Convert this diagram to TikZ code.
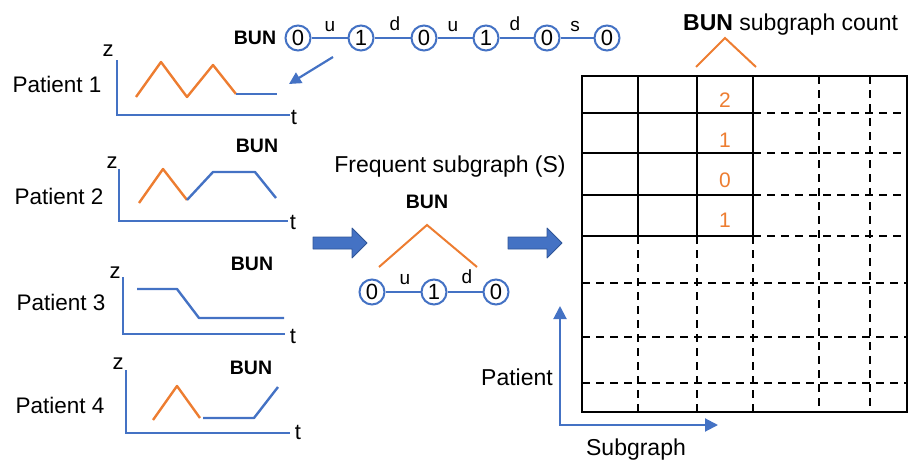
\documentclass[tikz,border=0pt]{standalone}
\usepackage{fontspec}
\setmainfont{Liberation Sans}
\usetikzlibrary{arrows.meta}
\definecolor{cblue}{HTML}{4472C4}
\definecolor{cdblue}{HTML}{2F5597}
\definecolor{corange}{HTML}{ED7D31}
\begin{document}
\begin{tikzpicture}[x=1pt,y=-1pt,
  vert/.style={circle,draw=cblue,line width=2pt,inner sep=0pt,minimum size=25pt,font=\fontsize{22}{22}\selectfont},
  chainedge/.style={draw=cblue,line width=1.7pt},
  elab/.style={anchor=base,inner sep=0pt,font=\fontsize{19}{19}\selectfont},
  axisline/.style={draw=cblue,line width=2.6pt},
  bluser/.style={draw=cblue,line width=2.4pt,line join=round},
  orser/.style={draw=corange,line width=2.4pt,line join=round},
  pat/.style={inner sep=0pt,font=\fontsize{22.5}{26}\selectfont},
  bun/.style={inner sep=0pt,font=\fontsize{19.5}{20}\selectfont\bfseries},
  axlab/.style={inner sep=0pt,font=\fontsize{22}{22}\selectfont},
  big/.style={inner sep=0pt,font=\fontsize{23}{26}\selectfont},
  cnt/.style={inner sep=0pt,text=corange,font=\fontsize{21}{21}\selectfont},
  gridsolid/.style={draw=black,line width=2.4pt},
  griddash/.style={draw=black,line width=2.2pt,dash pattern=on 8pt off 6pt},
  blockarrow/.style={fill=cblue,draw=cdblue,line width=0.8pt,line join=round},
  tent/.style={draw=corange,line width=2pt,line join=miter}
]
\useasboundingbox (0,0) rectangle (908,466);

% ---------- top chain ----------
\node[bun] (bunTop) at (255,38) {BUN};
\node[vert] (c1) at (298,38) {0};
\node[vert] (c2) at (361,38) {1};
\node[vert] (c3) at (424,38) {0};
\node[vert] (c4) at (486,38) {1};
\node[vert] (c5) at (547,38) {0};
\node[vert] (c6) at (607,38) {0};
\draw[chainedge] (c1) -- (c2);
\draw[chainedge] (c2) -- (c3);
\draw[chainedge] (c3) -- (c4);
\draw[chainedge] (c4) -- (c5);
\draw[chainedge] (c5) -- (c6);
\node[elab] (l1) at (330,31) {u};
\node[elab] (l2) at (395,30) {d};
\node[elab] (l3) at (453,31) {u};
\node[elab] (l4) at (515,30) {d};
\node[elab] (l5) at (575,31) {s};
\coordinate (arS) at (333,57);
\coordinate (arE) at (289,84);
\draw[draw=cblue,line width=2.2pt,-{Triangle[length=12pt,width=12pt]}] (arS) -- (arE);

% ---------- patient 1 ----------
\node[pat] (p1) at (57,84) {Patient 1};
\node[axlab] (z1) at (108,51) {z};
\node[axlab] (t1) at (294,117) {t};
\draw[axisline] (117,60) -- (117,115) -- (290,115);
\draw[orser] (136,97) -- (161,62) -- (187,97) -- (213,65) -- (236,94);
\draw[bluser] (236,94) -- (277,94);

% ---------- patient 2 ----------
\node[pat] (p2) at (59,196) {Patient 2};
\node[bun] (bun2) at (257,146) {BUN};
\node[axlab] (z2) at (112,163) {z};
\node[axlab] (t2) at (293,222) {t};
\draw[axisline] (119,169) -- (119,221) -- (288,221);
\draw[orser] (139,203) -- (163,169) -- (187,200);
\draw[bluser] (187,200) -- (213,172) -- (255,172) -- (276,198);

% ---------- patient 3 ----------
\node[pat] (p3) at (61,302) {Patient 3};
\node[bun] (bun3) at (252,264) {BUN};
\node[axlab] (z3) at (115,273) {z};
\node[axlab] (t3) at (293,336) {t};
\draw[axisline] (123,277) -- (123,334) -- (285,334);
\draw[bluser] (137,289) -- (177,289) -- (199,318) -- (284,318);

% ---------- patient 4 ----------
\node[pat] (p4) at (60,405) {Patient 4};
\node[bun] (bun4) at (251,368) {BUN};
\node[axlab] (z4) at (118,364) {z};
\node[axlab] (t4) at (298,432) {t};
\draw[axisline] (126,370) -- (126,433) -- (290,433);
\draw[orser] (153,420) -- (177,386) -- (200,418);
\draw[bluser] (203,418) -- (254,418) -- (278,387);

% ---------- block arrows ----------
\draw[blockarrow] (313,237) -- (352,237) -- (352,228) -- (367,243) -- (352,258) -- (352,249) -- (313,249) -- cycle;
\draw[blockarrow] (508,237) -- (547,237) -- (547,228) -- (562,243) -- (547,258) -- (547,249) -- (508,249) -- cycle;

% ---------- frequent subgraph ----------
\node[big] (fs) at (450,167) {Frequent subgraph (S)};
\node[bun] (bunS) at (427,202) {BUN};
\draw[tent] (379,267) -- (427,225) -- (477,267);
\node[vert] (s1) at (372,292) {0};
\node[vert] (s2) at (434,292) {1};
\node[vert] (s3) at (496,292) {0};
\draw[chainedge] (s1) -- (s2);
\draw[chainedge] (s2) -- (s3);
\node[elab] (sl1) at (405,284) {u};
\node[elab] (sl2) at (467,283) {d};

% ---------- count matrix ----------
\node[inner sep=0pt,anchor=base west,font=\fontsize{23}{26}\selectfont] (title) at (683,30) {\textbf{BUN} subgraph count};
\draw[tent] (696,67) -- (725,38) -- (756,67);
\draw[gridsolid] (582,76) rectangle (907,412);
\foreach \x in {638,697} \draw[gridsolid] (\x,76) -- (\x,236);
\draw[draw=black,line width=1.4pt] (753,76) -- (753,236);
\foreach \y in {113,153,195,236} \draw[gridsolid] (582,\y) -- (753,\y);
\foreach \y in {113,153,195,236} \draw[griddash] (753,\y) -- (907,\y);
\foreach \y in {283,337,383} \draw[griddash] (582,\y) -- (907,\y);
\foreach \x in {819,870} \draw[griddash] (\x,76) -- (\x,412);
\foreach \x in {638,697,753} \draw[griddash] (\x,236) -- (\x,412);
\node[cnt] (n1) at (725,100) {2};
\node[cnt] (n2) at (725,140) {1};
\node[cnt] (n3) at (725,180) {0};
\node[cnt] (n4) at (725,220) {1};

% ---------- axes of matrix ----------
\coordinate (axTop) at (560,306);
\coordinate (axCorner) at (560,425);
\coordinate (axRight) at (718,425);
\draw[draw=cblue,line width=2pt,{Triangle[length=13pt,width=13pt]}-{Triangle[length=13pt,width=13pt]}] (axTop) -- (axCorner) -- (axRight);
\node[big] (patl) at (517,377) {Patient};
\node[big] (subl) at (636,450) {Subgraph};
\end{tikzpicture}
\end{document}
